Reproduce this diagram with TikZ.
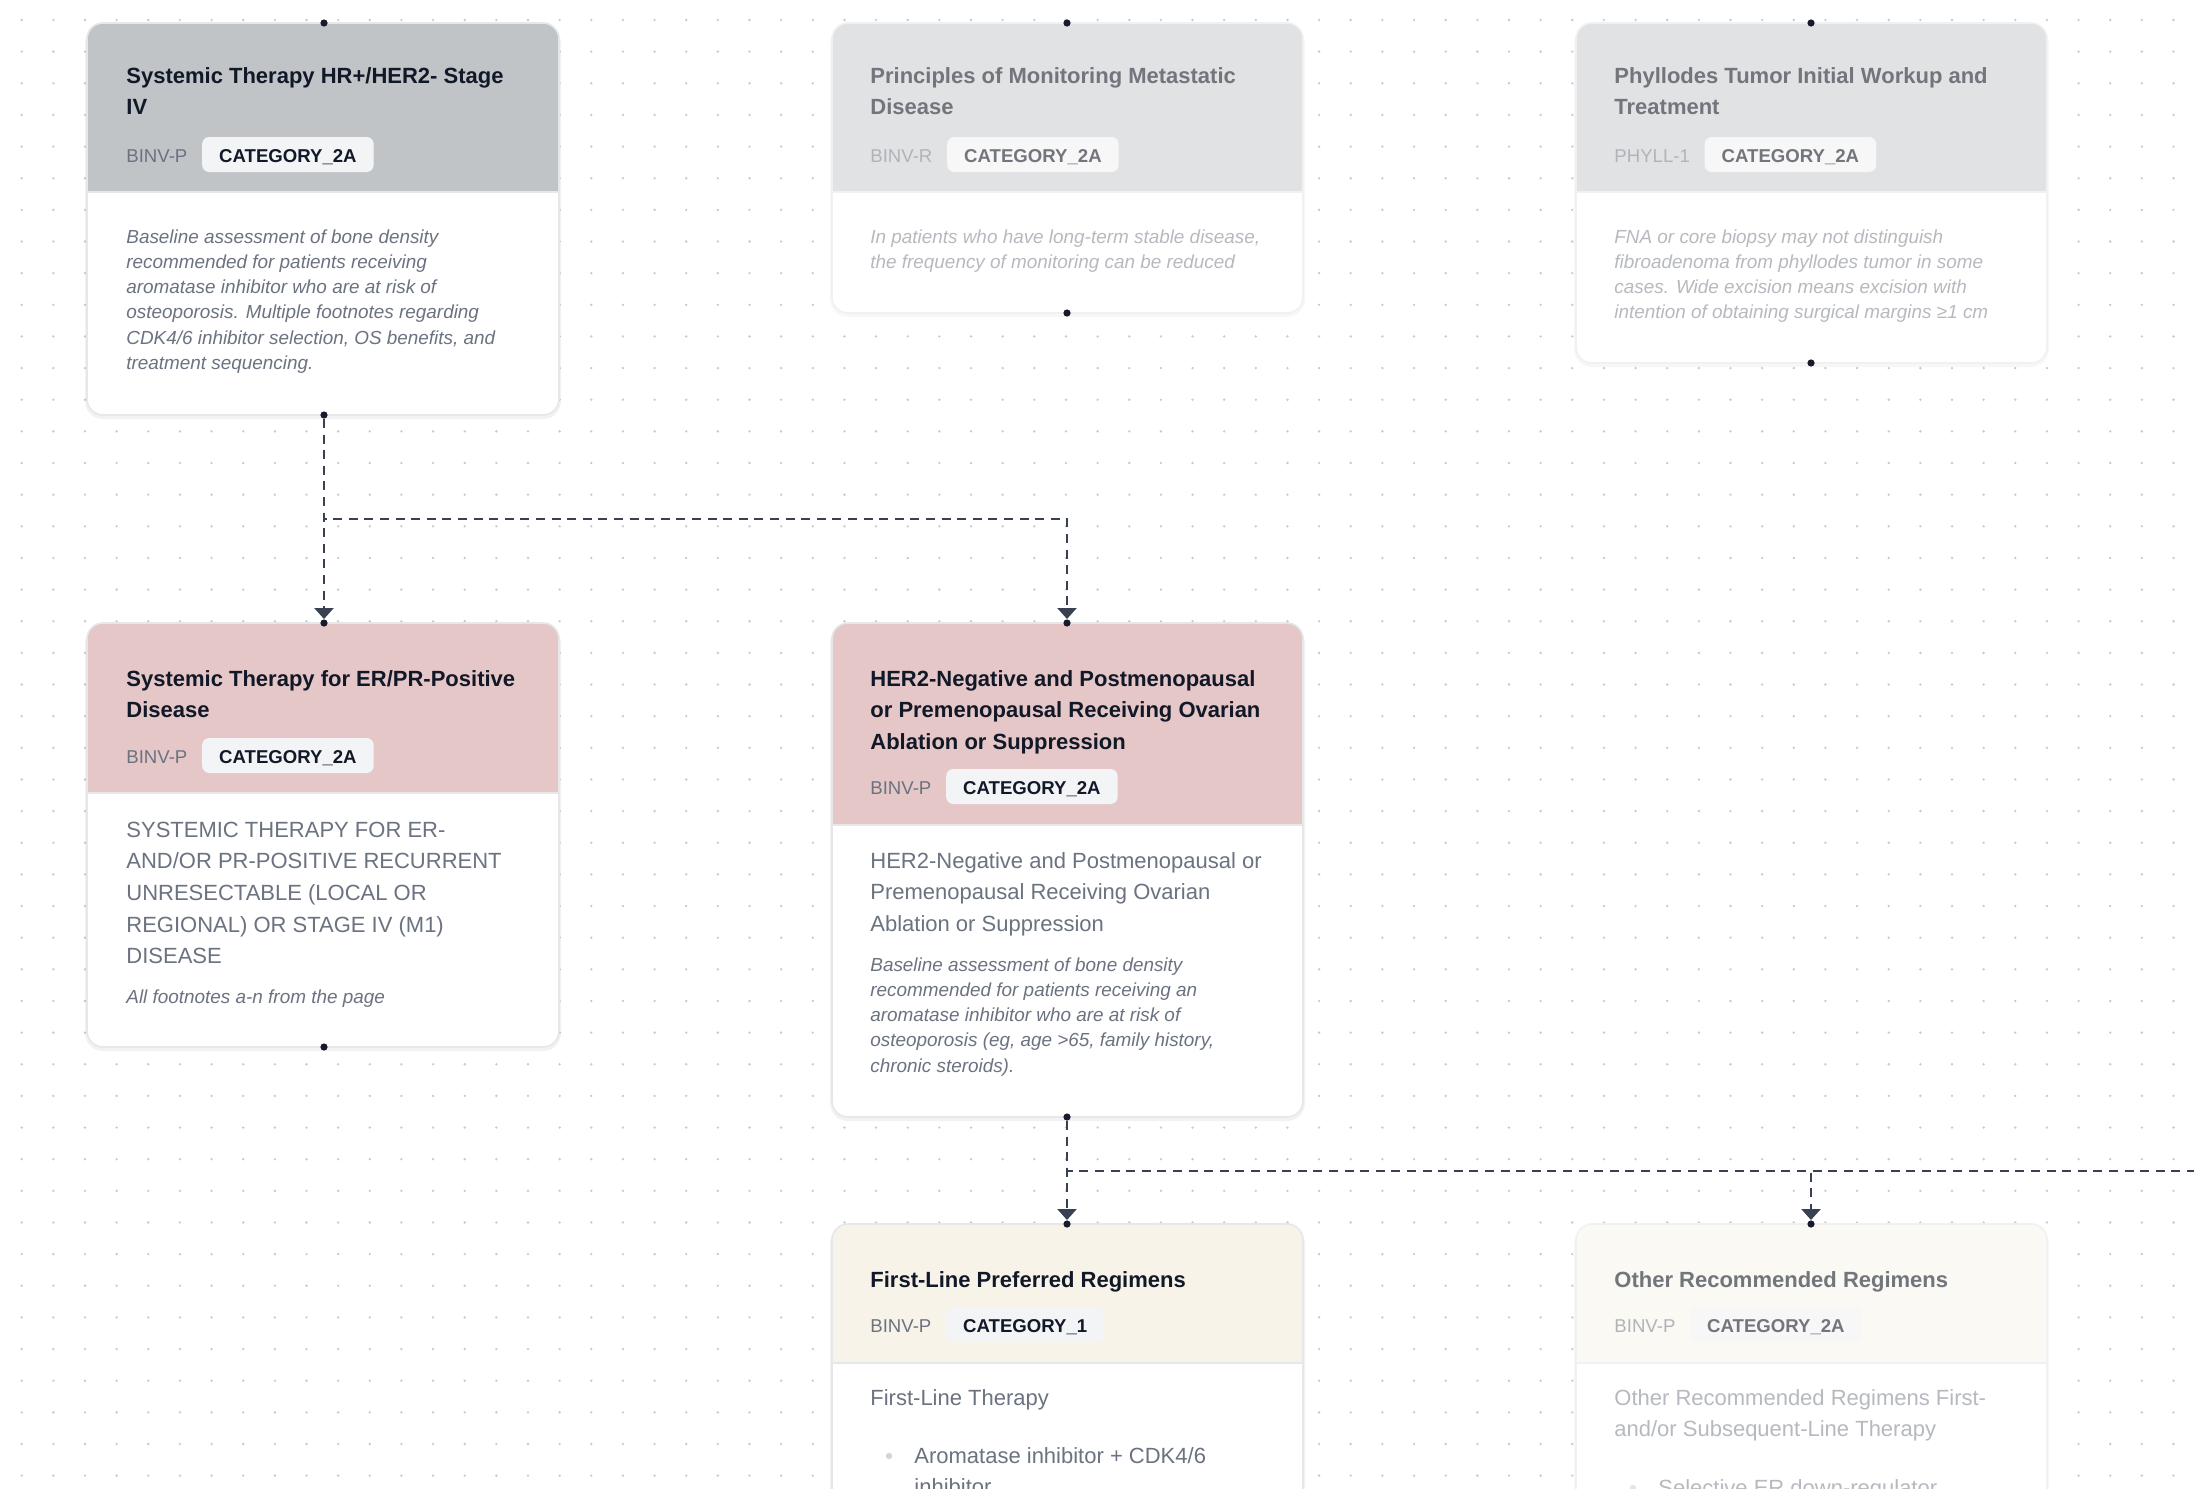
\documentclass[tikz,border=0pt]{standalone}
\usepackage{fontspec}
\setmainfont{Liberation Sans}
\usetikzlibrary{positioning,arrows.meta}

\definecolor{ink}{RGB}{17,24,39}
\definecolor{muted}{RGB}{107,114,128}
\definecolor{faint}{RGB}{176,179,185}
\definecolor{fainter}{RGB}{182,185,191}
\definecolor{fadetitle}{RGB}{114,117,124}
\definecolor{linkcol}{RGB}{55,65,81}
\definecolor{handlecol}{RGB}{26,26,46}
\definecolor{edge}{RGB}{229,231,235}
\definecolor{griddot}{RGB}{198,201,206}
\definecolor{bulletcol}{RGB}{209,213,219}
\definecolor{headgray}{RGB}{192,196,199}
\definecolor{headpale}{RGB}{225,226,228}
\definecolor{headpink}{RGB}{229,199,200}
\definecolor{headcream}{RGB}{247,243,232}
\definecolor{headcreampale}{RGB}{251,249,243}
\definecolor{badgebg}{RGB}{243,244,246}
\definecolor{badgepale}{RGB}{247,247,248}

% lines of a text block, baseline on the first line
\newcommand{\textrows}[1]{\begin{tabular}[t]{@{}l@{}}#1\end{tabular}}

\begin{document}
\begin{tikzpicture}[x=0.5pt,y=-0.5pt,
    card/.style={draw=edge,line width=0.8pt,rounded corners=8pt},
    shade/.style={fill=black,opacity=0.05,rounded corners=9pt},
    title/.style={anchor=base west,inner sep=0pt,text=ink,
      font=\fontsize{11}{15.85}\selectfont\bfseries},
    tag/.style={anchor=base west,inner sep=0pt,text=muted,
      font=\fontsize{9.3}{11}\selectfont},
    badge/.style={fill=badgebg,rounded corners=3.5pt,inner xsep=8.5pt,inner ysep=5pt,
      text height=7.5pt,text depth=0pt,text=ink,font=\fontsize{9.3}{11}\selectfont\bfseries},
    body/.style={anchor=base west,inner sep=0pt,text=muted,
      font=\fontsize{11}{15.85}\selectfont},
    note/.style={anchor=base west,inner sep=0pt,text=muted,
      font=\fontsize{9.45}{12.65}\selectfont\itshape},
    handle/.style={circle,fill=handlecol,inner sep=0pt,minimum size=3.6pt},
    link/.style={draw=linkcol,line width=1.3pt,dash pattern=on 4.5pt off 3.3pt,
      -{Triangle[width=9.5pt,length=5.5pt]}},
  ]

    % Canvas
    \useasboundingbox (0,0) rectangle (2194,1488);
    \clip (0,0) rectangle (2194,1488);
    \fill[white] (0,0) rectangle (2194,1488);
    \foreach \i in {0,...,69}
      \foreach \j in {0,...,46}
        \fill[griddot] ({21.7+31.644*\i},{20+31.644*\j}) circle (0.65pt);

    % Card 1: stage IV
    \fill[shade] (85,25) rectangle (561,419);
    \fill[white,rounded corners=8pt] (87,23) rectangle (559,415);
    \begin{scope}
      \clip[rounded corners=8pt] (87,23) rectangle (559,415);
      \fill[headgray] (87,23) rectangle (559,192);
    \end{scope}
    \draw[edge,line width=1pt] (87,192) -- (559,192);
    \draw[card] (87,23) rectangle (559,415);
    \node[title] (t1) at (126,83) {\textrows{Systemic Therapy HR+/HER2- Stage\\IV}};
    \node[tag] (g1) at (126,162) {BINV-P};
    \node[badge,right=7pt of g1.base east,anchor=base west] (b1) {CATEGORY\_2A};
    \node[note] (n1) at (126,243) {\textrows{Baseline assessment of bone density\\
      recommended for patients receiving\\aromatase inhibitor who are at risk of\\
      osteoporosis. Multiple footnotes regarding\\
      CDK4/6 inhibitor selection, OS benefits, and\\treatment sequencing.}};
    \node[handle] (h1in) at (324,23) {};
    \node[handle] (h1out) at (324,415) {};

    % Card 2: monitoring
    \fill[shade,opacity=0.03] (830,25) rectangle (1305,317);
    \fill[white,rounded corners=8pt] (832,23) rectangle (1303,313);
    \begin{scope}
      \clip[rounded corners=8pt] (832,23) rectangle (1303,313);
      \fill[headpale] (832,23) rectangle (1303,192);
    \end{scope}
    \draw[edge!60,line width=1pt] (832,192) -- (1303,192);
    \draw[card,draw=edge!60] (832,23) rectangle (1303,313);
    \node[title,text=fadetitle] (t2) at (870,83) {\textrows{Principles of Monitoring Metastatic\\Disease}};
    \node[tag,text=faint] (g2) at (870,162) {BINV-R};
    \node[badge,fill=badgepale,text=fadetitle,right=7pt of g2.base east,anchor=base west] (b2) {CATEGORY\_2A};
    \node[note,text=fainter] (n2) at (870,243) {\textrows{In patients who have long-term stable disease,\\
      the frequency of monitoring can be reduced}};
    \node[handle] (h2in) at (1067,23) {};
    \node[handle] (h2out) at (1067,313) {};

    % Card 3: phyllodes
    \fill[shade,opacity=0.03] (1574,25) rectangle (2049,367);
    \fill[white,rounded corners=8pt] (1576,23) rectangle (2047,363);
    \begin{scope}
      \clip[rounded corners=8pt] (1576,23) rectangle (2047,363);
      \fill[headpale] (1576,23) rectangle (2047,192);
    \end{scope}
    \draw[edge!60,line width=1pt] (1576,192) -- (2047,192);
    \draw[card,draw=edge!60] (1576,23) rectangle (2047,363);
    \node[title,text=fadetitle] (t3) at (1614,83) {\textrows{Phyllodes Tumor Initial Workup and\\Treatment}};
    \node[tag,text=faint] (g3) at (1614,162) {PHYLL-1};
    \node[badge,fill=badgepale,text=fadetitle,right=7pt of g3.base east,anchor=base west] (b3) {CATEGORY\_2A};
    \node[note,text=fainter] (n3) at (1614,243) {\textrows{FNA or core biopsy may not distinguish\\
      fibroadenoma from phyllodes tumor in some\\cases. Wide excision means excision with\\
      intention of obtaining surgical margins ≥1 cm}};
    \node[handle] (h3in) at (1811,23) {};
    \node[handle] (h3out) at (1811,363) {};

    % Card 4: ER/PR-positive
    \fill[shade] (85,625) rectangle (561,1051);
    \fill[white,rounded corners=8pt] (87,623) rectangle (559,1047);
    \begin{scope}
      \clip[rounded corners=8pt] (87,623) rectangle (559,1047);
      \fill[headpink] (87,623) rectangle (559,793);
    \end{scope}
    \draw[edge,line width=1pt] (87,793) -- (559,793);
    \draw[card] (87,623) rectangle (559,1047);
    \node[title] (t4) at (126,686) {\textrows{Systemic Therapy for ER/PR-Positive\\Disease}};
    \node[tag] (g4) at (126,763) {BINV-P};
    \node[badge,right=7pt of g4.base east,anchor=base west] (b4) {CATEGORY\_2A};
    \node[body] (d4) at (126,837) {\textrows{SYSTEMIC THERAPY FOR ER-\\AND/OR PR-POSITIVE RECURRENT\\
      UNRESECTABLE (LOCAL OR\\REGIONAL) OR STAGE IV (M1)\\DISEASE}};
    \node[note] (n4) at (126,1003) {All footnotes a-n from the page};
    \node[handle] (h4in) at (324,623) {};
    \node[handle] (h4out) at (324,1047) {};

    % Card 5: HER2-negative
    \fill[shade] (830,625) rectangle (1305,1121);
    \fill[white,rounded corners=8pt] (832,623) rectangle (1303,1117);
    \begin{scope}
      \clip[rounded corners=8pt] (832,623) rectangle (1303,1117);
      \fill[headpink] (832,623) rectangle (1303,825);
    \end{scope}
    \draw[edge,line width=1pt] (832,825) -- (1303,825);
    \draw[card] (832,623) rectangle (1303,1117);
    \node[title] (t5) at (870,686) {\textrows{HER2-Negative and Postmenopausal\\
      or Premenopausal Receiving Ovarian\\Ablation or Suppression}};
    \node[tag] (g5) at (870,794) {BINV-P};
    \node[badge,right=7pt of g5.base east,anchor=base west] (b5) {CATEGORY\_2A};
    \node[body] (d5) at (870,868) {\textrows{HER2-Negative and Postmenopausal or\\
      Premenopausal Receiving Ovarian\\Ablation or Suppression}};
    \node[note] (n5) at (870,971) {\textrows{Baseline assessment of bone density\\
      recommended for patients receiving an\\aromatase inhibitor who are at risk of\\
      osteoporosis (eg, age >65, family history,\\chronic steroids).}};
    \node[handle] (h5in) at (1067,623) {};
    \node[handle] (h5out) at (1067,1117) {};

    % Card 6: first-line
    \fill[shade] (830,1226) rectangle (1305,1600);
    \fill[white,rounded corners=8pt] (832,1224) rectangle (1303,1600);
    \begin{scope}
      \clip[rounded corners=8pt] (832,1224) rectangle (1303,1600);
      \fill[headcream] (832,1224) rectangle (1303,1363);
    \end{scope}
    \draw[edge,line width=1pt] (832,1363) -- (1303,1363);
    \draw[card] (832,1224) rectangle (1303,1600);
    \node[title] (t6) at (870,1287) {First-Line Preferred Regimens};
    \node[tag] (g6) at (870,1332) {BINV-P};
    \node[badge,right=7pt of g6.base east,anchor=base west] (b6) {CATEGORY\_1};
    \node[body] (d6) at (870,1405) {First-Line Therapy};
    \fill[bulletcol] (889,1456) circle (1.6pt);
    \node[body] (l6) at (914,1463) {\textrows{Aromatase inhibitor + CDK4/6\\inhibitor}};
    \node[handle] (h6in) at (1067,1224) {};

    % Card 7: other regimens
    \fill[shade,opacity=0.03] (1574,1226) rectangle (2049,1600);
    \fill[white,rounded corners=8pt] (1576,1224) rectangle (2047,1600);
    \begin{scope}
      \clip[rounded corners=8pt] (1576,1224) rectangle (2047,1600);
      \fill[headcreampale] (1576,1224) rectangle (2047,1363);
    \end{scope}
    \draw[edge!60,line width=1pt] (1576,1363) -- (2047,1363);
    \draw[card,draw=edge!60] (1576,1224) rectangle (2047,1600);
    \node[title,text=fadetitle] (t7) at (1614,1287) {Other Recommended Regimens};
    \node[tag,text=faint] (g7) at (1614,1332) {BINV-P};
    \node[badge,fill=badgepale,text=fadetitle,right=7pt of g7.base east,anchor=base west] (b7) {CATEGORY\_2A};
    \node[body,text=fainter] (d7) at (1614,1405) {\textrows{Other Recommended Regimens First-\\
      and/or Subsequent-Line Therapy}};
    \fill[bulletcol!60] (1633,1488) circle (1.6pt);
    \node[body,text=fainter] (l7) at (1658,1495) {Selective ER down-regulator};
    \node[handle] (h7in) at (1811,1224) {};
    \coordinate (h8in) at (2554,1224);

    % Links
    \draw[link] (h1out) -- (h4in);
    \draw[link] (h1out) -- ++(0,104) -| (h5in);
    \draw[link] (h5out) -- (h6in);
    \draw[link] (h5out) -- ++(0,54) -| (h7in);
    \draw[link] (h5out) -- ++(0,54) -| (h8in);

\end{tikzpicture}
\end{document}
